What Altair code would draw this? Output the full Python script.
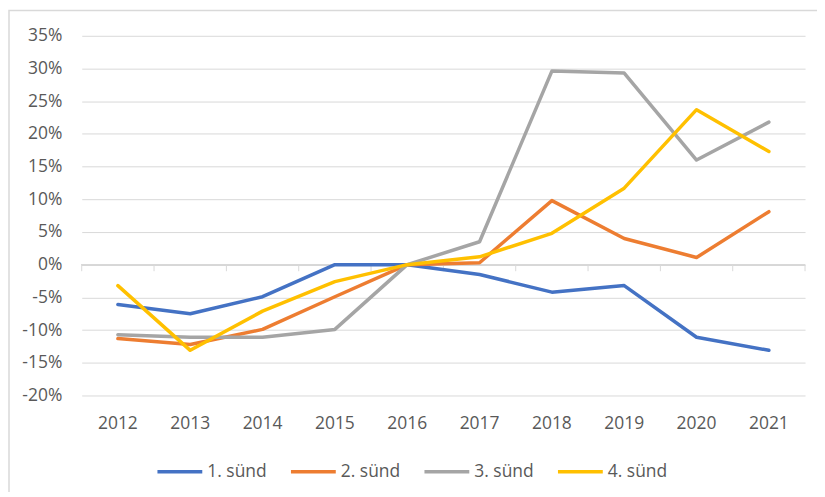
import altair as alt
import pandas as pd

years = ["2012", "2013", "2014", "2015", "2016", "2017", "2018", "2019", "2020", "2021"]
series_names = ["1. sünd", "2. sünd", "3. sünd", "4. sünd"]
s1 = [-0.061, -0.075, -0.049, 0.0, 0.0, -0.015, -0.042, -0.032, -0.111, -0.131]
s2 = [-0.113, -0.122, -0.099, -0.049, 0.0, 0.003, 0.098, 0.040, 0.011, 0.081]
s3 = [-0.107, -0.111, -0.111, -0.099, 0.0, 0.035, 0.296, 0.293, 0.160, 0.218]
s4 = [-0.032, -0.131, -0.071, -0.026, 0.0, 0.012, 0.048, 0.117, 0.237, 0.173]
colors = ["#4472C4", "#ED7D31", "#A5A5A5", "#FFC000"]
y_ticks = [-0.2, -0.15, -0.1, -0.05, 0, 0.05, 0.1, 0.15, 0.2, 0.25, 0.3, 0.35]

rows = []
for name, vals in zip(series_names, [s1, s2, s3, s4]):
    for y, v in zip(years, vals):
        rows.append({"year": y, "series": name, "value": v})
df = pd.DataFrame(rows)
df_years = pd.DataFrame({"year": years})
df_last = pd.DataFrame({"year": years[-1:]})
df_one = pd.DataFrame({"k": [0]})

FONT = "Open Sans"
TXT = "#595959"
GRID = "#D9D9D9"

xscale = alt.Scale(type="band", domain=years, paddingInner=0, paddingOuter=0)
yscale = alt.Scale(domain=[-0.2, 0.35], nice=False)

xaxis = alt.Axis(labelAngle=0, labelAlign="center", bandPosition=0.5,
                 domain=False, ticks=False, grid=False, title=None,
                 labelPadding=19, labelFontSize=17.5, labelColor=TXT, labelFont=FONT)
yaxis = alt.Axis(values=y_ticks, labelOverlap=False, labelFlush=False, title=None,
                 labelExpr="round(datum.value*100) + '%'",
                 domain=False, ticks=False, grid=True, gridColor=GRID, gridWidth=1,
                 labelPadding=20, labelFontSize=17.5, labelColor=TXT, labelFont=FONT)

lines = alt.Chart(df).mark_line(strokeWidth=3.5, strokeJoin="round", strokeCap="round").encode(
    x=alt.X("year:O", scale=xscale, bandPosition=0.5, axis=xaxis),
    y=alt.Y("value:Q", scale=yscale, axis=yaxis),
    color=alt.Color("series:N", scale=alt.Scale(domain=series_names, range=colors),
                    legend=alt.Legend(title=None, orient="none", direction="horizontal",
                                      legendX=74, legendY=413, symbolType="stroke",
                                      symbolSize=2025, symbolStrokeWidth=3.5,
                                      labelFontSize=17.5, labelColor=TXT, labelFont=FONT,
                                      labelOffset=3, columnPadding=17, labelLimit=200)),
    order=alt.Order("series:N"),
)

zero = alt.Chart(df_years).mark_rule(color=GRID, strokeWidth=1).encode(
    y=alt.YDatum(0, scale=yscale, axis=yaxis)
)

ticks = alt.Chart(df_years).mark_rule(color=GRID, strokeWidth=1).encode(
    x=alt.X("year:O", scale=xscale, bandPosition=0, axis=xaxis),
    y=alt.YDatum(0, scale=yscale, axis=yaxis),
    y2=alt.datum(-0.01),
)
ticks_end = alt.Chart(df_last).mark_rule(color=GRID, strokeWidth=1).encode(
    x=alt.X("year:O", scale=xscale, bandPosition=1, axis=xaxis),
    y=alt.YDatum(0, scale=yscale, axis=yaxis),
    y2=alt.datum(-0.01),
)

border = alt.Chart(df_one).mark_rect(fill="transparent", stroke=GRID, strokeWidth=1.5).encode(
    x=alt.value(-73), x2=alt.value(780), y=alt.value(-25.5), y2=alt.value(500)
)

chart = alt.layer(border, zero, ticks, ticks_end, lines).properties(
    width=726, height=361,
    background="white",
    autosize=alt.AutoSizeParams(type="none"),
    padding={"left": 74, "top": 27, "right": 12, "bottom": 96},
).configure_view(stroke=None)

chart.save("out.html", embed_options={"renderer": "svg", "actions": False})
